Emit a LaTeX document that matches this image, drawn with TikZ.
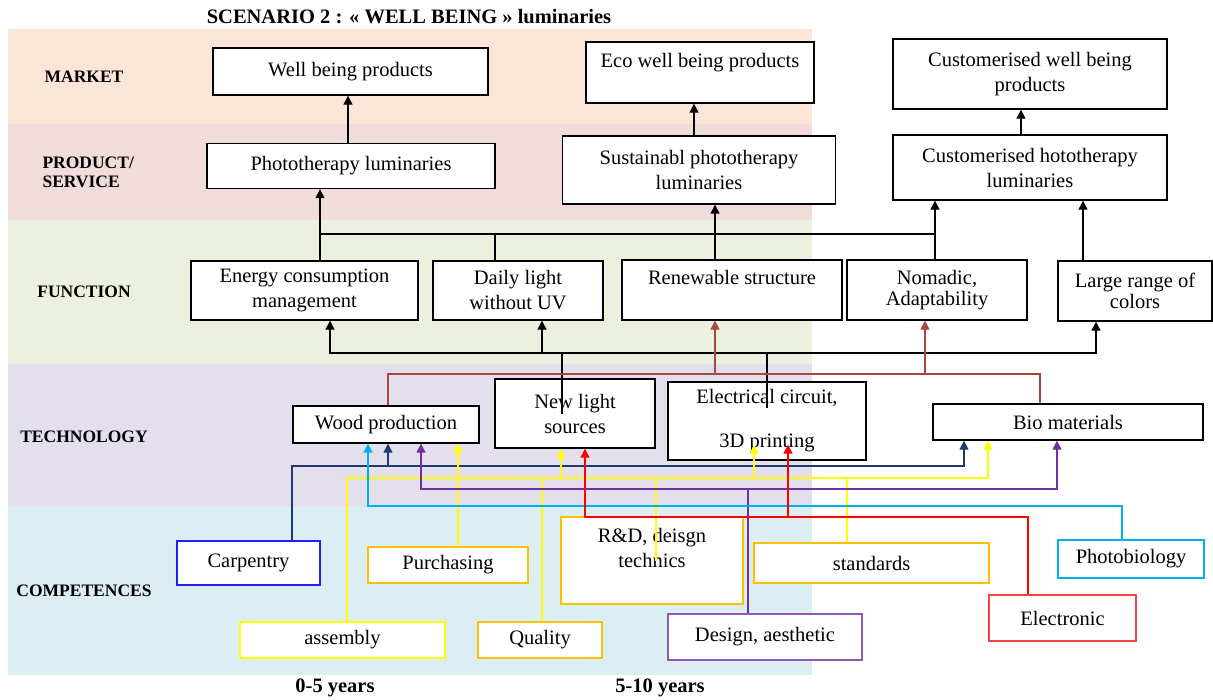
\documentclass[tikz,border=0pt]{standalone}
\usepackage{fontspec}
\setmainfont{Liberation Serif}
\usetikzlibrary{arrows.meta}

\definecolor{bandmkt}{HTML}{FBE5D6}
\definecolor{bandprd}{HTML}{F2DCDB}
\definecolor{bandfun}{HTML}{EBF1DE}
\definecolor{bandtec}{HTML}{E4DFEC}
\definecolor{bandcmp}{HTML}{DAEEF3}
\definecolor{brn}{HTML}{A9443F}
\definecolor{nvy}{HTML}{1F3A6E}
\definecolor{ylw}{HTML}{FFFF00}
\definecolor{prp}{HTML}{7030A0}
\definecolor{cyn}{HTML}{00B0F0}
\definecolor{rd}{HTML}{FF0000}
\definecolor{org}{HTML}{FFC000}
\definecolor{blu}{HTML}{2020FF}

\tikzset{
  box/.style={draw=black, line width=1.4pt, fill=white, inner sep=0pt, align=center},
  cbox/.style={line width=1.4pt, fill=white, inner sep=0pt, align=center},
  ln/.style={line width=1.3pt},
  lbl/.style={font=\fontsize{17.5}{19}\selectfont\bfseries},
  big/.style={font=\fontsize{20.5}{25}\selectfont\bfseries},
}

\begin{document}
\begin{tikzpicture}[x=1pt,y=-1pt,font=\fontsize{20.5}{25}\selectfont,
  >={Triangle[length=9pt,width=9pt]}]
\useasboundingbox (0,0) rectangle (1213,699);
% bands
\fill[bandmkt] (8,29) rectangle (812,124);
\fill[bandprd] (8,124) rectangle (812,220);
\fill[bandfun] (8,220) rectangle (812,364);
\fill[bandtec] (8,364) rectangle (812,507);
\fill[bandcmp] (8,507) rectangle (812,675);

\node[big] (title) at (409,17) {SCENARIO 2 : « WELL BEING » luminaries};
\node[lbl] (lmkt) at (84,77) {MARKET};
\node[lbl,align=left,anchor=west] (lprd) at (39,172) {PRODUCT/\\SERVICE};
\node[lbl] (lfun) at (84,292) {FUNCTION};
\node[lbl] (ltec) at (84,437) {TECHNOLOGY};
\node[lbl] (lcmp) at (84,591) {COMPETENCES};
\node[big] (y05) at (335,688) {0-5 years};
\node[big] (y510) at (660,688) {5-10 years};

% market
\node[box,minimum width=275pt,minimum height=47pt] (wbp) at (350.5,71.5) {Well being products};
\node[box,minimum width=228pt,minimum height=61pt] (ewp) at (700,72.5) {Eco well being products\\\mbox{}};
\node[box,minimum width=274pt,minimum height=70pt] (cwp) at (1030,74) {Customerised well being\\products};
% product / service
\node[box,minimum width=288pt,minimum height=45pt] (plum) at (351,166) {Phototherapy luminaries};
\node[box,minimum width=273pt,minimum height=68pt] (spl) at (699,170) {Sustainabl phototherapy\\luminaries};
\node[box,minimum width=274pt,minimum height=65pt] (chl) at (1030,167.5) {Customerised hototherapy\\luminaries};
% function
\node[box,minimum width=227pt,minimum height=59pt] (ecm) at (304.5,290.5) {Energy consumption\\management};
\node[box,minimum width=170pt,minimum height=59pt] (dlu) at (518,290.5) {Daily light\\without UV};
\node[box,minimum width=220pt,minimum height=60pt] (ren) at (732,290) {Renewable structure\\\mbox{}};
\node[box,minimum width=180pt,minimum height=60pt] (nom) at (937,290) {Nomadic,\\[-4pt]Adaptability};
\node[box,minimum width=154pt,minimum height=60pt] (lrc) at (1135,291) {Large range of\\[-4pt]colors};
% technology
\node[box,minimum width=186pt,minimum height=37pt] (wood) at (386,424.5) {Wood production};
\node[box,minimum width=160pt,minimum height=69pt] (nls) at (575,413.5) {New light\\sources};
\node[box,minimum width=198pt,minimum height=78pt] (elc) at (767,421) {Electrical circuit,\\[19pt]3D printing};
\node[box,minimum width=270pt,minimum height=36pt] (bio) at (1068,422) {Bio materials};
% competences
\node[cbox,draw=blu,minimum width=143pt,minimum height=44pt] (carp) at (248.5,563) {Carpentry};
\node[cbox,draw=org,minimum width=160pt,minimum height=36pt] (purch) at (448,565) {Purchasing};
\node[cbox,draw=org,minimum width=182pt,minimum height=87pt] (rnd) at (652,560.5) {R\&D, deisgn\\technics\\\mbox{}};
\node[cbox,draw=org,minimum width=235pt,minimum height=40pt] (std) at (871.5,563) {standards};
\node[cbox,draw=cyn,minimum width=146pt,minimum height=38pt] (photo) at (1131,559) {Photobiology};
\node[cbox,draw=rd!75,minimum width=147pt,minimum height=46pt] (elec) at (1062.5,618) {Electronic};
\node[cbox,draw=ylw,minimum width=205pt,minimum height=36pt] (asm) at (342.5,640) {assembly};
\node[cbox,draw=org,minimum width=124pt,minimum height=36pt] (qual) at (540,640) {Quality};
\node[cbox,draw=prp!80,minimum width=194pt,minimum height=46pt] (des) at (765,637) {Design, aesthetic};

\coordinate (elcin) at ([yshift=16pt]elc.south);

% product -> market
\draw[ln,->] (plum.north -| 348,0) -- (wbp.south -| 348,0);
\draw[ln,->] (spl.north -| 694,0) -- (ewp.south -| 694,0);
\draw[ln,->] (chl.north -| 1021,0) -- (cwp.south -| 1021,0);

% function -> product
\draw[ln] (320,234) -- (935,234);
\draw[ln,->] (ecm.north -| 320,0) -- (plum.south -| 320,0);
\draw[ln] (dlu.north -| 495,0) -- (495,234);
\draw[ln,->] (ren.north -| 715,0) -- (spl.south -| 715,0);
\draw[ln,->] (nom.north -| 935,0) -- (chl.south -| 935,0);
\draw[ln,->] (lrc.north -| 1083,0) -- (chl.south -| 1083,0);

% technology -> function
\draw[ln,<->] (ecm.south -| 330,0) -- (330,353) -- (1096,353) -- (lrc.south -| 1096,0);
\draw[ln,->] (542,353) -- (dlu.south -| 542,0);
\draw[ln] (nls.center -| 562,0) -- (562,353);
\draw[ln] ([yshift=13pt]elc.center) -- (767,353);
\draw[ln,brn] (wood.north -| 388,0) |- (1040,374) -- (bio.north -| 1040,0);
\draw[ln,brn,->] (715,374) -- (ren.south -| 715,0);
\draw[ln,brn,->] (925,374) -- (nom.south -| 925,0);

% competences -> technology
\draw[ln,nvy,->] (carp.north -| 292,0) |- (964,466) -- (bio.south -| 964,0);
\draw[ln,nvy,->] (388,466) -- (wood.south -| 388,0);
\draw[ln,ylw,->] (asm.north -| 347,0) |- (988,478) -- (bio.south -| 988,0);
\draw[ln,ylw] (qual.north -| 542,0) -- (542,478);
\draw[ln,ylw] (rnd.center -| 656,0) -- (656,478);
\draw[ln,ylw] (std.north -| 847,0) -- (847,478);
\draw[ln,ylw,->] (561,478) -- (nls.south -| 561,0);
\draw[ln,ylw,->] (754,478) -- (elcin -| 754,0);
\draw[ln,ylw,->] (purch.north -| 458,0) -- (wood.south -| 458,0);
\draw[ln,prp,->] (des.north -| 748,0) |- (421,489) -- (wood.south -| 421,0);
\draw[ln,prp,->] (748,489) -| (bio.south -| 1057,0);
\draw[ln,cyn,->] (photo.north -| 1122,0) |- (368,506) -- (wood.south -| 368,0);
\draw[ln,rd,->] (elec.north -| 1028,0) |- (585,517) -- (nls.south -| 585,0);
\draw[ln,rd,->] (788,517) -- (elcin -| 788,0);
\end{tikzpicture}
\end{document}
